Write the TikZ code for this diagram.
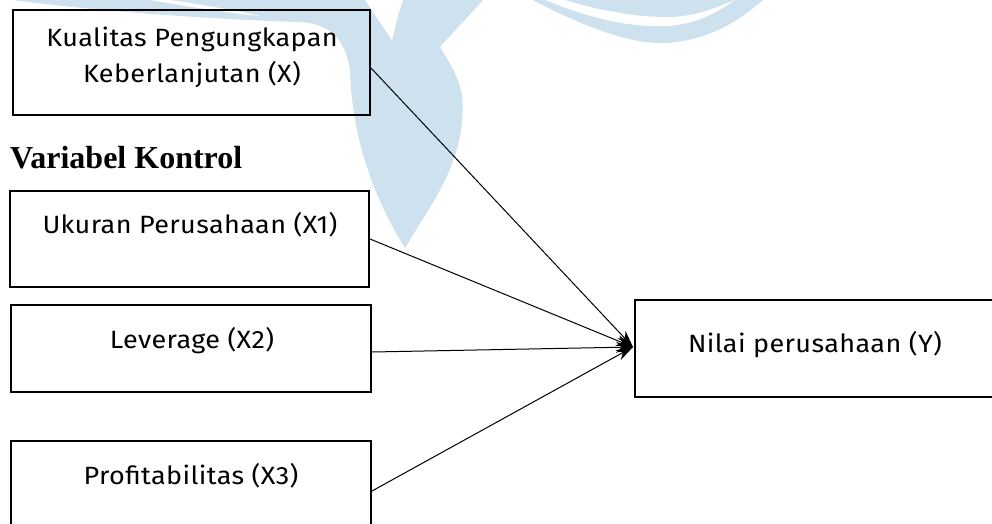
\documentclass[tikz,border=0pt]{standalone}
\usepackage{fontspec}
\setmainfont{Fira Sans}
\newfontfamily\boxfont[LetterSpace=1.5, FakeStretch=1.08]{Fira Sans}
\newfontfamily\headfont{Liberation Serif}
\usetikzlibrary{arrows.meta,calc}

\definecolor{wmblue}{RGB}{205,225,238}

\tikzset{
  box/.style={draw=black, line width=2pt, rectangle, inner sep=0pt},
  lbl/.style={font=\boxfont\fontsize{25}{30}\selectfont, inner sep=0pt, anchor=base},
  link/.style={draw=black, line width=1pt,
    -{Stealth[length=17pt,width=11pt]}},
  wm/.style={fill=wmblue, draw=none}
}

\begin{document}
\begin{tikzpicture}[x=1pt,y=-1pt]
  \useasboundingbox (0,0) rectangle (992,524);
  \clip (0,0) rectangle (992,524);

  % faint logo in the background: left sweep, drop, right wave
  \path[wm] (13,0) .. controls (100,12) and (230,20) .. (300,22)
    .. controls (330,24) and (345,38) .. (350,70)
    .. controls (352,140) and (375,200) .. (405,248)
    .. controls (430,205) and (468,160) .. (462,95)
    .. controls (458,75) and (448,60) .. (440,47)
    .. controls (455,30) and (470,15) .. (483,0) -- cycle;
  \path[fill=white] (150,0) .. controls (180,5) and (220,12) .. (260,16)
    .. controls (225,8) and (190,3) .. (170,0) -- cycle;
  \path[fill=white] (365,0) .. controls (375,15) and (385,30) .. (392,40)
    .. controls (395,28) and (398,14) .. (403,0) -- cycle;
  \path[wm] (533,0) .. controls (580,25) and (630,45) .. (667,43)
    .. controls (710,40) and (740,20) .. (763,0) -- cycle;
  \path[fill=white] (545,0) .. controls (590,18) and (630,28) .. (667,26)
    .. controls (700,24) and (720,10) .. (735,0)
    .. controls (715,8) and (695,17) .. (667,17)
    .. controls (630,17) and (590,8) .. (565,0) -- cycle;

  % boxes
  \node[box, minimum width=357pt, minimum height=105pt] (bx) at (191.5,62.5) {};
  \node[box, minimum width=359pt, minimum height=96pt] (bx1) at (189.5,239) {};
  \node[box, minimum width=360pt, minimum height=87pt] (bx2) at (191,348.5) {};
  \node[box, minimum width=360pt, minimum height=89pt] (bx3) at (191,485.5) {};
  \node[box, minimum width=365pt, minimum height=97pt] (by) at (817.5,348.5) {};

  % texts
  \node[lbl] (tx1) at (192,47) {Kualitas Pengungkapan};
  \node[lbl] (tx2) at (192,83) {Keberlanjutan (X)};
  \node[inner sep=0pt, anchor=base west, font=\headfont\bfseries\fontsize{32}{36}\selectfont]
    (kontrol) at (10,168) {Variabel Kontrol};
  \node[lbl] (t1) at (190,233) {Ukuran Perusahaan (X1)};
  \node[lbl] (t2) at (192,348) {Leverage (X2)};
  \node[lbl] (t3) at (191,484) {Profitabilitas (X3)};
  \node[lbl] (ty) at (815,352) {Nilai perusahaan (Y)};

  % connectors
  \coordinate (hub) at (633,347);
  \draw[link] ([yshift=-5.5pt]bx.east) -- (hub);
  \draw[link] (bx1.east) -- (hub);
  \draw[link] ([yshift=-3.5pt]bx2.east) -- (hub);
  \draw[link] ([yshift=-5.5pt]bx3.east) -- (hub);
\end{tikzpicture}
\end{document}
